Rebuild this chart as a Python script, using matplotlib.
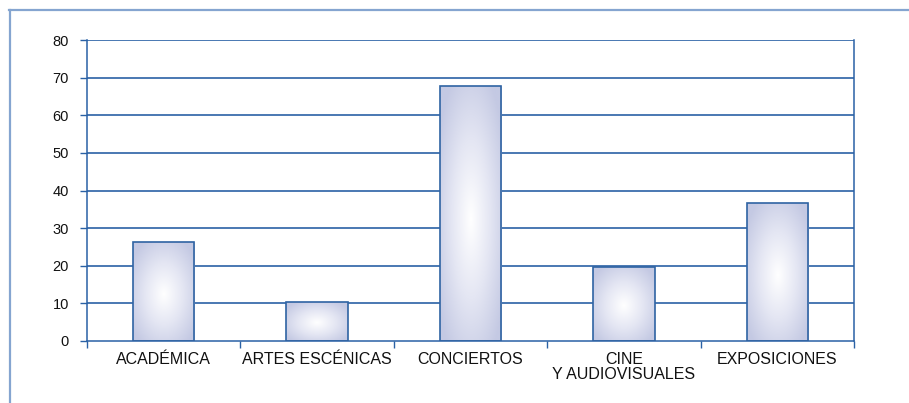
import numpy as np
import matplotlib
matplotlib.use("Agg")
import matplotlib.pyplot as plt
from matplotlib.lines import Line2D
from matplotlib.colors import LinearSegmentedColormap

categories = ["ACADÉMICA", "ARTES ESCÉNICAS", "CONCIERTOS", "CINE\nY AUDIOVISUALES", "EXPOSICIONES"]
values = [26.3, 10.3, 67.8, 19.8, 36.8]
yticks = [0, 10, 20, 30, 40, 50, 60, 70, 80]

plt.rcParams['font.family'] = ['Liberation Sans', 'DejaVu Sans']

fig = plt.figure(figsize=(9.09, 4.03), dpi=100)
ax = fig.add_axes([87/909, 1-341/403, (854-87)/909, (341-40)/403])

blue = '#2a61a5'
x = np.arange(len(categories))
bars = ax.bar(x, values, width=0.4, facecolor='none', edgecolor='#2f63a3', linewidth=1.2, zorder=3)

cmap = LinearSegmentedColormap.from_list('g', ['#ffffff', '#e4e6f3', '#c4c9e3'])
nx, ny = 80, 200
gx = np.linspace(-1, 1, nx)
gy = np.linspace(-1, 1, ny)
GX, GY = np.meshgrid(gx, gy)
R = np.clip(np.sqrt(GX**2 + (GY + 0.05)**2) / 1.25, 0, 1)
for b in bars:
    x0, y0 = b.get_x(), b.get_y()
    w, h = b.get_width(), b.get_height()
    im = ax.imshow(R, cmap=cmap, vmin=0, vmax=1, extent=(x0, x0 + w, y0, y0 + h),
                   aspect='auto', origin='lower', zorder=2, interpolation='bilinear')
    im.set_clip_path(b)

ax.set_xlim(-0.5, len(categories) - 0.5)
ax.set_ylim(0, 80)
ax.set_yticks(yticks)
ax.set_yticklabels([str(v) for v in yticks], fontsize=10.5, color='#111111')
ax.set_xticks(x)
ax.set_xticklabels(categories, fontsize=11.5, color='#111111', linespacing=0.95)
ax.set_xticks(np.arange(len(categories) + 1) - 0.5, minor=True)
ax.tick_params(axis='x', which='major', length=0, pad=8)
ax.tick_params(axis='x', which='minor', length=5, color=blue, width=1)
ax.tick_params(axis='y', length=5, color=blue, width=1, pad=8)

for yv in yticks[1:]:
    ax.axhline(yv, color=blue, linewidth=1.2, zorder=1)

for s in ['left', 'right', 'bottom', 'top']:
    ax.spines[s].set_color(blue)
    ax.spines[s].set_linewidth(1.1)
ax.spines['top'].set_visible(False)

fr = '#85a5d0'
fig.add_artist(Line2D([9/909, 1], [1-9.5/403, 1-9.5/403], color=fr, linewidth=1.6, transform=fig.transFigure))
fig.add_artist(Line2D([9.5/909, 9.5/909], [0, 1-9.5/403], color=fr, linewidth=1.6, transform=fig.transFigure))

fig.savefig('out.png', dpi=100)
